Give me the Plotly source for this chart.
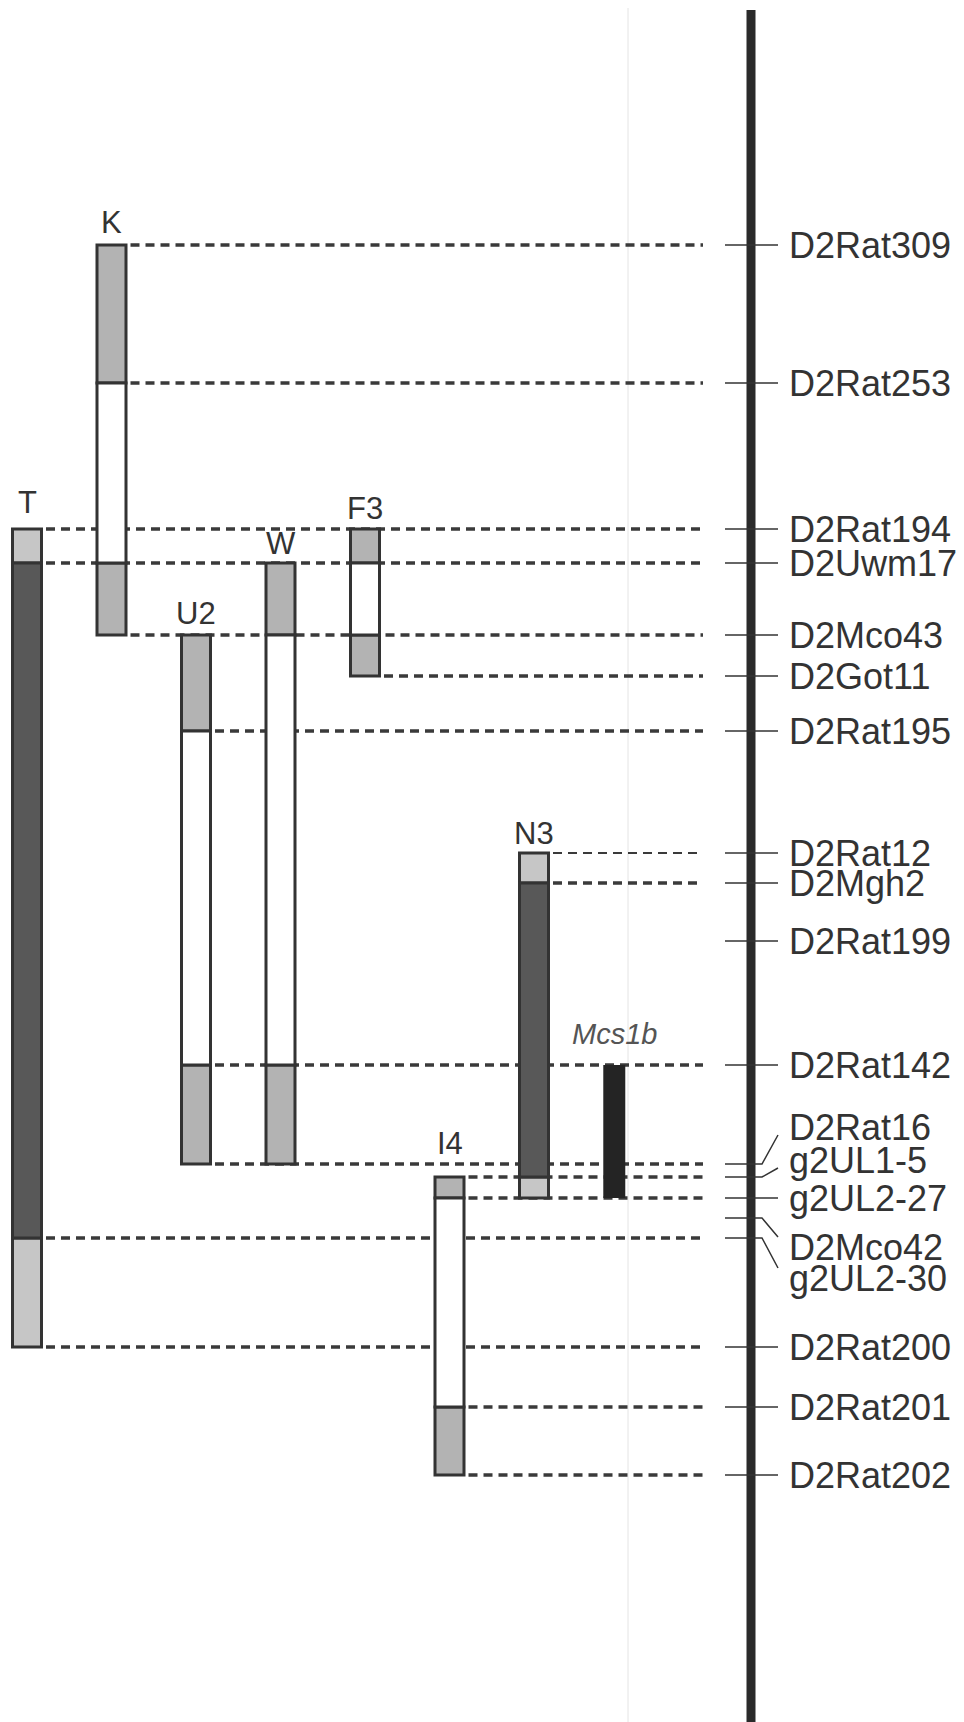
import plotly.graph_objects as go

# ---------------- data ----------------
markers = ["D2Rat309", "D2Rat253", "D2Rat194", "D2Uwm17", "D2Mco43", "D2Got11",
           "D2Rat195", "D2Rat12", "D2Mgh2", "D2Rat199", "D2Rat142", "D2Rat16",
           "g2UL1-5", "g2UL2-27", "D2Mco42", "g2UL2-30", "D2Rat200", "D2Rat201",
           "D2Rat202"]
# map position of each marker (top = 0)
marker_pos = [245, 383, 529, 563, 635, 676, 731, 853, 883, 941, 1065, 1164,
              1177, 1198, 1218, 1238, 1347, 1407, 1475]
# where each marker's label is printed (crowded ones are displaced)
label_pos = [245, 383, 529, 563, 635, 676, 731, 853, 883, 941, 1065, 1127,
             1160, 1198, 1247, 1278, 1347, 1407, 1475]
# strain whose bar each dashed guide line starts from (None = no guide line)
dash_from = ["K", "K", "T", "T", "K", "F3", "U2", "N3", "N3", None, "U2", "U2",
             "I4", "I4", None, "T", "T", "I4", "I4"]

strains = ["T", "K", "U2", "W", "F3", "I4", "N3"]
strain_col = [0, 1, 2, 3, 4, 5, 6]

seg_T = [("D2Rat194", "D2Uwm17", "light"), ("D2Uwm17", "g2UL2-30", "dark"),
         ("g2UL2-30", "D2Rat200", "light")]
seg_K = [("D2Rat309", "D2Rat253", "gray"), ("D2Rat253", "D2Uwm17", "white"),
         ("D2Uwm17", "D2Mco43", "gray")]
seg_U2 = [("D2Mco43", "D2Rat195", "gray"), ("D2Rat195", "D2Rat142", "white"),
          ("D2Rat142", "D2Rat16", "gray")]
seg_W = [("D2Uwm17", "D2Mco43", "gray"), ("D2Mco43", "D2Rat142", "white"),
         ("D2Rat142", "D2Rat16", "gray")]
seg_F3 = [("D2Rat194", "D2Uwm17", "gray"), ("D2Uwm17", "D2Mco43", "white"),
          ("D2Mco43", "D2Got11", "gray")]
seg_I4 = [("g2UL1-5", "g2UL2-27", "gray"), ("g2UL2-27", "D2Rat201", "white"),
          ("D2Rat201", "D2Rat202", "gray")]
seg_N3 = [("D2Rat12", "D2Mgh2", "light"), ("D2Mgh2", "g2UL1-5", "dark"),
          ("g2UL1-5", "g2UL2-27", "light")]
strain_segments = [seg_T, seg_K, seg_U2, seg_W, seg_F3, seg_I4, seg_N3]

qtl_name = "Mcs1b"
qtl_col = 6.95
qtl_span = ("D2Rat142", "g2UL2-27")

# ---------------- styling / layout ----------------
# the page body has an 8px default margin; compensate so that the
# picture lines up with the reference
OFF = 8
FW, FH = 956, 1714
PX = 84.5                       # pixels per strain column
X0 = (OFF - 27) / PX
X1 = X0 + FW / PX
Y_TOP = OFF
Y_BOT = OFF + FH
chrom_x = (751 - 27) / PX
dash_end = (703 - 27) / PX
bar_w = 29 / PX
qtl_w = 22 / PX

fills = {"gray": "#b3b3b3", "light": "#c6c6c6", "dark": "#585858", "white": "#ffffff"}
edge = "#333333"
label_gap = {"T": 27, "K": 23, "U2": 22, "W": 20, "F3": 21, "I4": 34, "N3": 20}

pos = dict(zip(markers, marker_pos))
col = dict(zip(strains, strain_col))

fig = go.Figure()

# dashed guide lines (below bars)
shapes = []
for m, y, s in zip(markers, marker_pos, dash_from):
    if s is None:
        continue
    shapes.append(dict(type="line", xref="x", yref="y", layer="below",
                       x0=col[s] + 19 / PX, x1=dash_end, y0=y, y1=y,
                       line=dict(color="#3a3a3a", width=2.2 if m == "D2Rat12" else 3.5,
                                 dash="9px,6px")))
# faint scan line
shapes.append(dict(type="line", xref="x", yref="paper", layer="below",
                   x0=(628 - 27) / PX, x1=(628 - 27) / PX, y0=0, y1=1,
                   line=dict(color="#e4e4e4", width=1)))

# strain bars, one trace per fill type
for ftype, fcol in fills.items():
    xs, bases, lens = [], [], []
    for s, segs in zip(strains, strain_segments):
        for a, b, t in segs:
            if t == ftype:
                xs.append(col[s])
                bases.append(pos[a])
                lens.append(pos[b] - pos[a])
    if xs:
        fig.add_trace(go.Bar(x=xs, y=lens, base=bases, width=bar_w,
                             marker=dict(color=fcol, line=dict(color=edge, width=3)),
                             hoverinfo="skip", showlegend=False))

# QTL bar
fig.add_trace(go.Bar(x=[qtl_col], y=[pos[qtl_span[1]] - pos[qtl_span[0]]],
                     base=[pos[qtl_span[0]]], width=qtl_w,
                     marker=dict(color="#242424", line=dict(width=0)),
                     hoverinfo="skip", showlegend=False))

# chromosome
fig.add_trace(go.Scatter(x=[chrom_x, chrom_x], y=[10, Y_BOT + 20], mode="lines",
                         line=dict(color="#2a2a2a", width=9),
                         hoverinfo="skip", showlegend=False))

# ticks and connectors
tx, ty = [], []
for y, ly in zip(marker_pos, label_pos):
    if y == ly:
        tx += [chrom_x - 26 / PX, chrom_x + 27 / PX, None]
        ty += [y, y, None]
    else:
        tx += [chrom_x - 26 / PX, chrom_x + 11 / PX, chrom_x + 27 / PX, None]
        ty += [y, y, ly + (8 if ly < y else -10), None]
fig.add_trace(go.Scatter(x=tx, y=ty, mode="lines",
                         line=dict(color="#333333", width=1.5),
                         hoverinfo="skip", showlegend=False))

annotations = []
for m, ly in zip(markers, label_pos):
    annotations.append(dict(x=chrom_x + 36 / PX, y=ly, xref="x", yref="y",
                            text=m, showarrow=False, xanchor="left", yanchor="middle",
                            font=dict(family="Liberation Sans, Arial", size=36,
                                      color="#333333")))
for s, segs in zip(strains, strain_segments):
    top = pos[segs[0][0]]
    annotations.append(dict(x=col[s], y=top - label_gap[s], xref="x", yref="y",
                            text=s, showarrow=False, xanchor="center", yanchor="middle",
                            font=dict(family="Liberation Sans, Arial", size=31,
                                      color="#333333")))
annotations.append(dict(x=qtl_col, y=pos[qtl_span[0]] - 31, xref="x", yref="y",
                        text="<i>" + qtl_name + "</i>", showarrow=False,
                        xanchor="center", yanchor="middle",
                        font=dict(family="Liberation Sans, Arial", size=29,
                                  color="#555555")))

fig.update_layout(
    width=FW, height=FH, margin=dict(l=0, r=0, t=0, b=0),
    paper_bgcolor="white", plot_bgcolor="white",
    barmode="overlay", showlegend=False,
    shapes=shapes, annotations=annotations,
    xaxis=dict(range=[X0, X1], visible=False, fixedrange=True),
    yaxis=dict(range=[Y_BOT, Y_TOP], visible=False, fixedrange=True),
)

fig.write_html("out.html", config={"displayModeBar": False})
